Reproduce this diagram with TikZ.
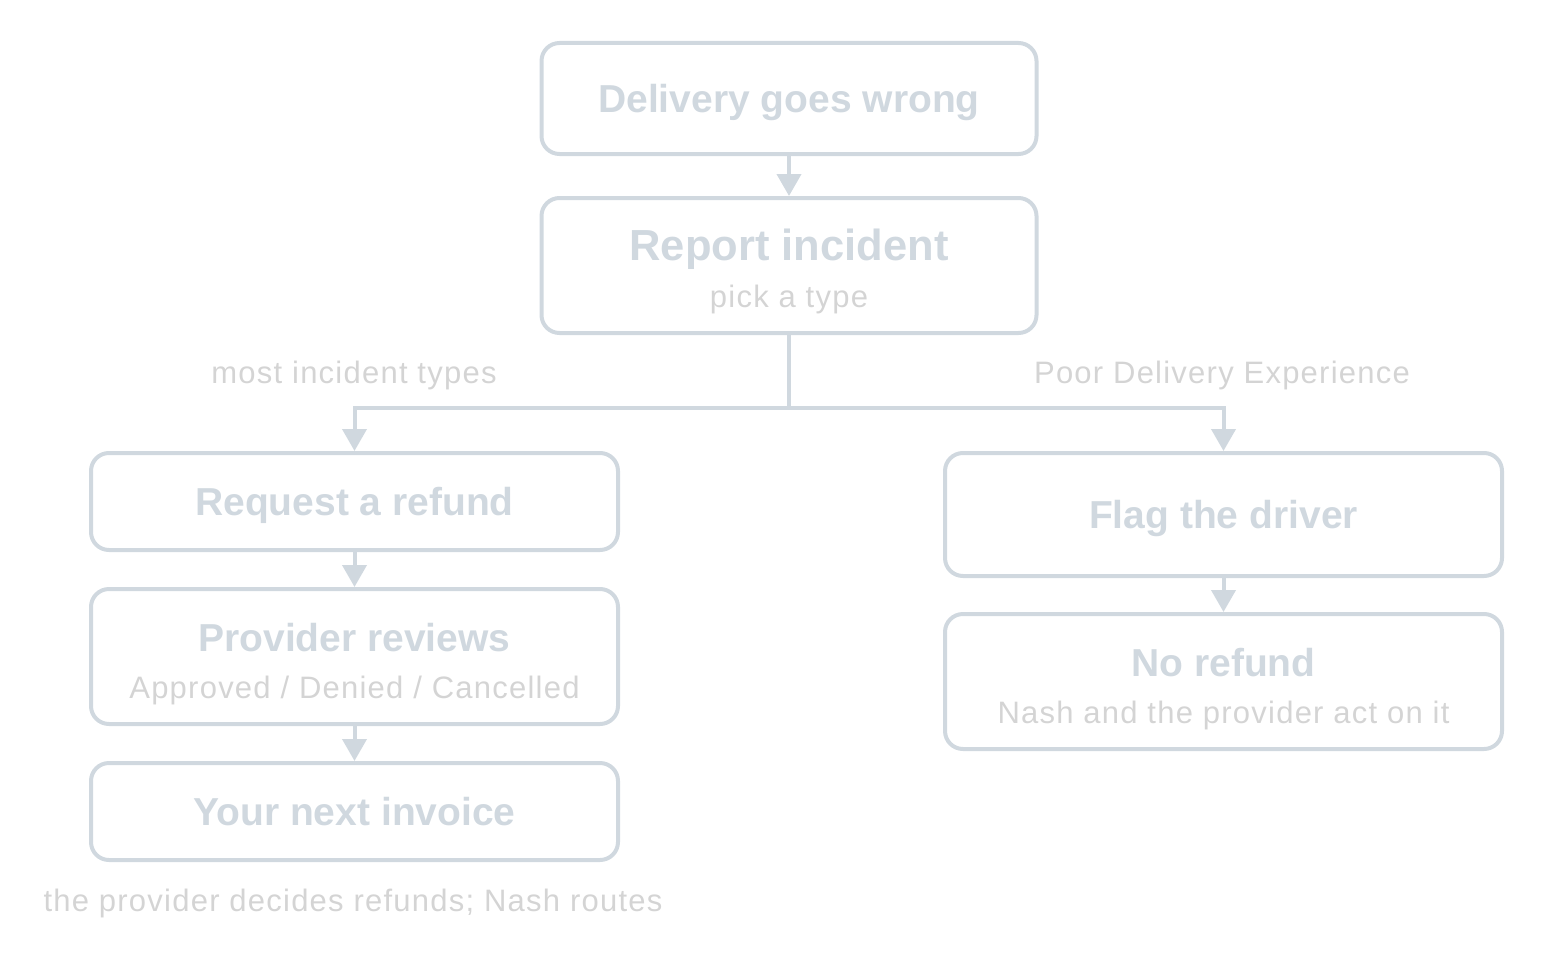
\documentclass[tikz,border=0pt]{standalone}
\usepackage{fontspec}
\setmainfont{Liberation Sans}
\newfontfamily\subfont[LetterSpace=4]{Liberation Sans}
\usetikzlibrary{arrows.meta}
\definecolor{boxline}{RGB}{208,216,223}
\definecolor{softgray}{RGB}{212,212,212}
\newcommand{\ttl}[1]{{\fontsize{39}{47}\selectfont\bfseries\color{boxline}#1}}
\newcommand{\sub}[1]{{\fontsize{31}{47}\subfont\color{softgray}#1}}
\begin{document}
\begin{tikzpicture}[x=1pt,y=-1pt]
   \tikzstyle{box} = [draw=boxline, line width=4pt, rounded corners=18pt, align=center, inner sep=0pt,
                      font=\fontsize{31}{47}\selectfont]
   \tikzstyle{single} = [box, text height=28pt, text depth=1pt]
   \tikzstyle{double} = [box, text height=90pt, text depth=7pt, minimum height=135pt]
   \tikzstyle{line} = [draw=boxline, line width=4pt, -{Triangle[width=24pt,length=22pt]}]
   \tikzstyle{note} = [inner sep=0pt, anchor=base]
   \useasboundingbox (0,0) rectangle (1546,958);

   \node[single, minimum width=495pt, minimum height=111pt] (wrong) at (789,98.5) {\ttl{Delivery goes wrong}};
   \node[double, minimum width=495pt] (report) at (789,265.5)
      {{\fontsize{43.5}{47}\selectfont\bfseries\color{boxline}Report incident}\\\sub{pick a type}};

   \node[single, minimum width=527pt, minimum height=97pt] (refund) at (354.5,501.5) {\ttl{Request a refund}};
   \node[double, minimum width=527pt] (review) at (354.5,656.5)
      {\ttl{Provider reviews}\\\sub{Approved / Denied / Cancelled}};
   \node[single, minimum width=527pt, minimum height=97pt] (invoice) at (354.5,811.5) {\ttl{Your next invoice}};

   \node[single, minimum width=557pt, minimum height=123pt] (flag) at (1223.5,514.5) {\ttl{Flag the driver}};
   \node[double, minimum width=557pt] (norefund) at (1223.5,681.5)
      {\ttl{No refund}\\\sub{Nash and the provider act on it}};

   \node[note] (most) at (354,383) {\sub{most incident types}};
   \node[note] (poor) at (1222,383) {\sub{Poor Delivery Experience}};
   \node[note] (foot) at (353,911) {\sub{the provider decides refunds; Nash routes}};

   \coordinate (split) at (789,408);

   \path [line] (wrong) -- (report);
   \draw [draw=boxline, line width=4pt] (report.south) -- (split);
   \path [line] (split) -| (refund.north);
   \path [line] (split) -| (flag.north);
   \path [line] (refund) -- (review);
   \path [line] (review) -- (invoice);
   \path [line] (flag) -- (norefund);
\end{tikzpicture}
\end{document}
